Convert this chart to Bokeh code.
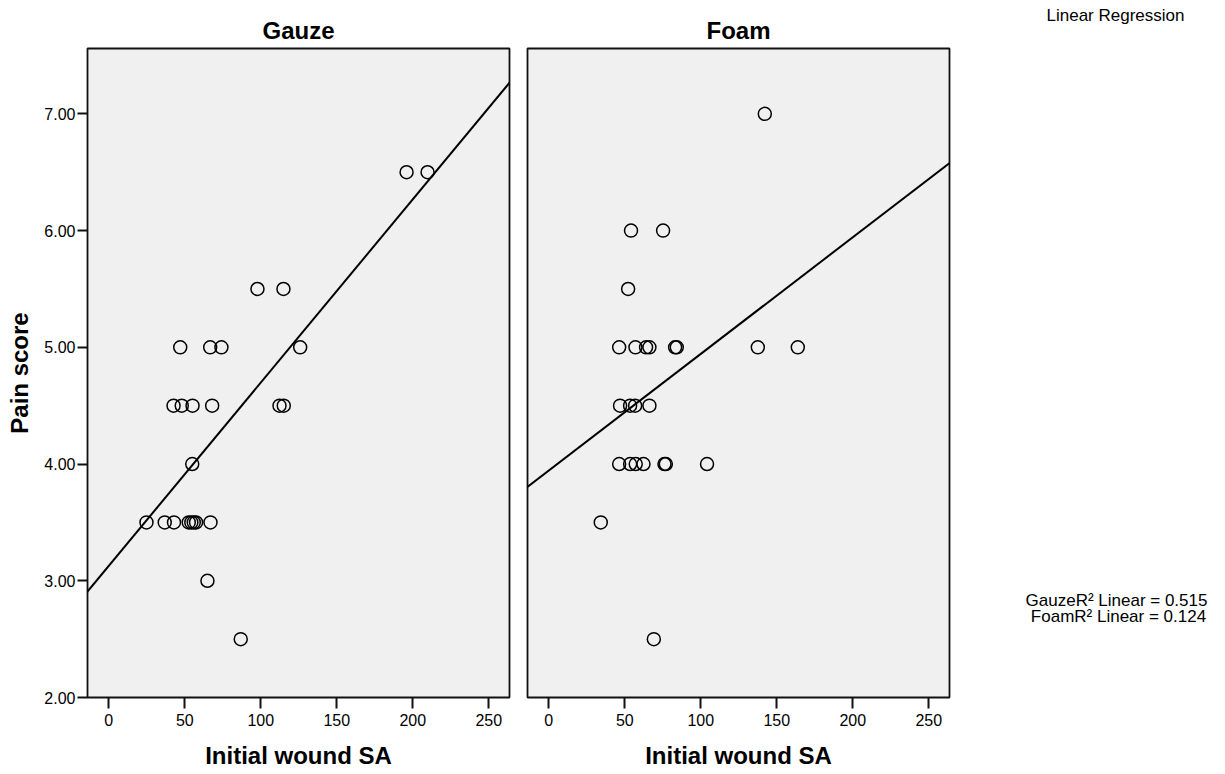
from bokeh.plotting import figure
from bokeh.layouts import row
from bokeh.models import Range1d, FixedTicker, Label, Slope
from bokeh.embed import file_html
from bokeh.resources import INLINE

# ---------------- data ----------------
gauze_x = [24.8, 36.8, 42.9, 52.6, 54.3, 55.9, 57.4, 66.9,
           42.6, 48.0, 55.1, 68.0, 112.3, 115.1,
           47.0, 66.7, 74.1, 125.9,
           54.9, 64.9, 86.8,
           97.8, 114.9, 195.9, 209.7]
gauze_y = [3.5, 3.5, 3.5, 3.5, 3.5, 3.5, 3.5, 3.5,
           4.5, 4.5, 4.5, 4.5, 4.5, 4.5,
           5.0, 5.0, 5.0, 5.0,
           4.0, 3.0, 2.5,
           5.5, 5.5, 6.5, 6.5]

foam_x = [142.1,
          54.1, 75.2,
          52.2,
          46.3, 57.0, 64.0, 66.2, 83.1, 84.2, 137.5, 163.8,
          46.9, 53.5, 56.8, 66.2,
          46.3, 53.5, 57.2, 62.3, 76.1, 77.0, 104.1,
          34.2, 69.1]
foam_y = [7.0,
          6.0, 6.0,
          5.5,
          5.0, 5.0, 5.0, 5.0, 5.0, 5.0, 5.0, 5.0,
          4.5, 4.5, 4.5, 4.5,
          4.0, 4.0, 4.0, 4.0, 4.0, 4.0, 4.0,
          3.5, 2.5]

# fitted regression lines (intercept, slope) as drawn in the reference
gauze_fit = (3.128, 0.0157)
foam_fit = (3.945, 0.00999)

x_ticks = [0, 50, 100, 150, 200, 250]
y_ticks = [2, 3, 4, 5, 6, 7]
y_tick_labels = ["2.00", "3.00", "4.00", "5.00", "6.00", "7.00"]
panel_titles = ["Gauze", "Foam"]
x_label = "Initial wound SA"
y_label = "Pain score"
legend_title = "Linear Regression"
legend_lines = ["GauzeR\u00b2 Linear = 0.515", "FoamR\u00b2 Linear = 0.124"]

FONT = "Liberation Sans"
X_RANGE = (-14.0, 263.6)
Y_RANGE = (2.0, 7.56)
H = 774
TOP = 48
FH = 649


def make_panel(title, xs, ys, fit, left_border, right_border, show_y):
    p = figure(frame_width=422, frame_height=FH,
               min_border_left=left_border, min_border_right=right_border,
               min_border_top=TOP, min_border_bottom=H - TOP - FH,
               x_range=Range1d(*X_RANGE), y_range=Range1d(*Y_RANGE),
               output_backend="svg", toolbar_location=None,
               background_fill_color="#f0f0f0", border_fill_color="white",
               title=title)
    p.grid.visible = False
    p.outline_line_color = "#111111"
    p.outline_line_width = 1.8

    p.title.align = "center"
    p.title.text_font = FONT
    p.title.text_font_size = "24px"
    p.title.text_font_style = "bold"
    p.title.text_color = "black"
    p.title.standoff = 9

    xa = p.xaxis[0]
    xa.ticker = FixedTicker(ticks=x_ticks)
    xa.axis_line_color = None
    xa.major_tick_in = 0
    xa.major_tick_out = 11
    xa.major_tick_line_width = 2
    xa.major_tick_line_color = "#111111"
    xa.minor_tick_line_color = None
    xa.major_label_standoff = 5
    xa.major_label_text_font = FONT
    xa.major_label_text_font_size = "16px"
    xa.major_label_text_color = "black"
    xa.axis_label = x_label
    xa.axis_label_text_font = FONT
    xa.axis_label_text_font_size = "24px"
    xa.axis_label_text_font_style = "bold"
    xa.axis_label_text_color = "black"
    xa.axis_label_standoff = 13

    ya = p.yaxis[0]
    if show_y:
        ya.ticker = FixedTicker(ticks=y_ticks)
        ya.major_label_overrides = {t: lab for t, lab in zip(y_ticks, y_tick_labels)}
        ya.axis_line_color = None
        ya.major_tick_in = 0
        ya.major_tick_out = 10
        ya.major_tick_line_width = 2
        ya.major_tick_line_color = "#111111"
        ya.minor_tick_line_color = None
        ya.major_label_standoff = 2
        ya.major_label_text_font = FONT
        ya.major_label_text_font_size = "16px"
        ya.major_label_text_color = "black"
        ya.axis_label = y_label
        ya.axis_label_text_font = FONT
        ya.axis_label_text_font_size = "24px"
        ya.axis_label_text_font_style = "bold"
        ya.axis_label_text_color = "black"
        ya.axis_label_standoff = 8
    else:
        ya.visible = False

    p.add_layout(Slope(gradient=fit[1], y_intercept=fit[0],
                       line_color="black", line_width=2))
    p.scatter(xs, ys, marker="circle", size=13, fill_color=None,
              line_color="black", line_width=1.5)
    return p


p1 = make_panel(panel_titles[0], gauze_x, gauze_y, gauze_fit, 87, 9, True)
p2 = make_panel(panel_titles[1], foam_x, foam_y, foam_fit, 9, 56, False)

# legend area on the right, in page-pixel-like coordinates (y downward)
X0 = (87 + 422 + 9) + (9 + 422 + 56)
LW = 1225 - X0
leg = figure(width=LW, height=H, x_range=Range1d(X0, 1225),
             y_range=Range1d(H, 0),
             x_axis_type=None, y_axis_type=None, output_backend="svg",
             toolbar_location=None, min_border=0, outline_line_color=None,
             background_fill_color="white", border_fill_color="white")
leg.grid.visible = False

if "frame_align" in leg.properties():
    # let the legend frame fill its whole canvas
    leg.frame_align = False
    leg.add_layout(Label(x=1115, y=15, text=legend_title, text_align="center",
                         text_baseline="middle", text_font=FONT,
                         text_font_size="17px", text_color="black"))
else:
    # frame is aligned with the panels' frames
    leg.y_range = Range1d(TOP + FH, TOP)
    leg.title.text = legend_title
    leg.title.align = "center"
    leg.title.text_font = FONT
    leg.title.text_font_size = "17px"
    leg.title.text_font_style = "normal"
    leg.title.text_color = "black"
    leg.title.standoff = 27

for i, t in enumerate(legend_lines):
    leg.add_layout(Label(x=1116 + (0 if i == 0 else 2), y=600 + 15.5 * i, text=t,
                         text_align="center", text_baseline="middle",
                         text_font=FONT, text_font_size="17px", text_color="black"))

layout = row(p1, p2, leg, spacing=0)
open("out.html", "w").write(file_html(layout, INLINE))
